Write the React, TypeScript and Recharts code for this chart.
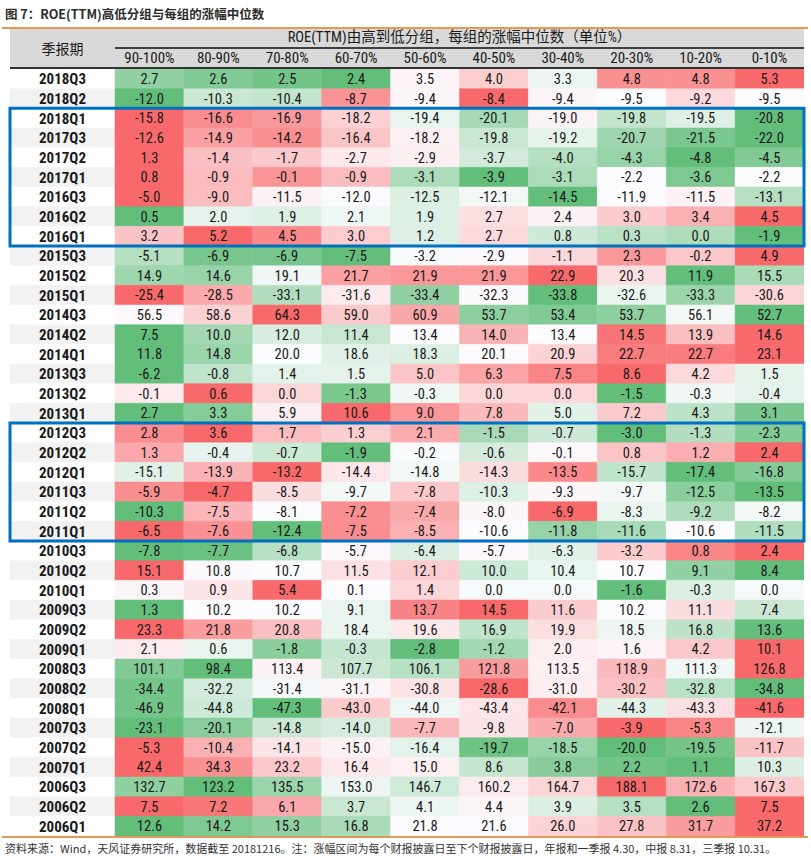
import { BarChart, Bar, XAxis, YAxis, Cell, LabelList, ReferenceArea } from 'recharts'

const title = '图 7：ROE(TTM)高低分组与每组的涨幅中位数'
const groupTitle = 'ROE(TTM)由高到低分组，每组的涨幅中位数（单位%）'
const periodTitle = '季报期'
const source =
  '资料来源：Wind，天风证券研究所，数据截至 20181216。注：涨幅区间为每个财报披露日至下个财报披露日，年报和一季报 4.30，中报 8.31，三季报 10.31。'

const groups = ['90-100%', '80-90%', '70-80%', '60-70%', '50-60%', '40-50%', '30-40%', '20-30%', '10-20%', '0-10%']

const periods = [
  '2018Q3', '2018Q2', '2018Q1', '2017Q3', '2017Q2', '2017Q1', '2016Q3', '2016Q2', '2016Q1',
  '2015Q3', '2015Q2', '2015Q1', '2014Q3', '2014Q2', '2014Q1', '2013Q3', '2013Q2', '2013Q1',
  '2012Q3', '2012Q2', '2012Q1', '2011Q3', '2011Q2', '2011Q1', '2010Q3', '2010Q2', '2010Q1',
  '2009Q3', '2009Q2', '2009Q1', '2008Q3', '2008Q2', '2008Q1', '2007Q3', '2007Q2', '2007Q1',
  '2006Q3', '2006Q2', '2006Q1',
]

// one row per period, columns follow `groups`
const medians: number[][] = [
  [2.7, 2.6, 2.5, 2.4, 3.5, 4.0, 3.3, 4.8, 4.8, 5.3],
  [-12.0, -10.3, -10.4, -8.7, -9.4, -8.4, -9.4, -9.5, -9.2, -9.5],
  [-15.8, -16.6, -16.9, -18.2, -19.4, -20.1, -19.0, -19.8, -19.5, -20.8],
  [-12.6, -14.9, -14.2, -16.4, -18.2, -19.8, -19.2, -20.7, -21.5, -22.0],
  [1.3, -1.4, -1.7, -2.7, -2.9, -3.7, -4.0, -4.3, -4.8, -4.5],
  [0.8, -0.9, -0.1, -0.9, -3.1, -3.9, -3.1, -2.2, -3.6, -2.2],
  [-5.0, -9.0, -11.5, -12.0, -12.5, -12.1, -14.5, -11.9, -11.5, -13.1],
  [0.5, 2.0, 1.9, 2.1, 1.9, 2.7, 2.4, 3.0, 3.4, 4.5],
  [3.2, 5.2, 4.5, 3.0, 1.2, 2.7, 0.8, 0.3, 0.0, -1.9],
  [-5.1, -6.9, -6.9, -7.5, -3.2, -2.9, -1.1, 2.3, -0.2, 4.9],
  [14.9, 14.6, 19.1, 21.7, 21.9, 21.9, 22.9, 20.3, 11.9, 15.5],
  [-25.4, -28.5, -33.1, -31.6, -33.4, -32.3, -33.8, -32.6, -33.3, -30.6],
  [56.5, 58.6, 64.3, 59.0, 60.9, 53.7, 53.4, 53.7, 56.1, 52.7],
  [7.5, 10.0, 12.0, 11.4, 13.4, 14.0, 13.4, 14.5, 13.9, 14.6],
  [11.8, 14.8, 20.0, 18.6, 18.3, 20.1, 20.9, 22.7, 22.7, 23.1],
  [-6.2, -0.8, 1.4, 1.5, 5.0, 6.3, 7.5, 8.6, 4.2, 1.5],
  [-0.1, 0.6, 0.0, -1.3, -0.3, 0.0, 0.0, -1.5, -0.3, -0.4],
  [2.7, 3.3, 5.9, 10.6, 9.0, 7.8, 5.0, 7.2, 4.3, 3.1],
  [2.8, 3.6, 1.7, 1.3, 2.1, -1.5, -0.7, -3.0, -1.3, -2.3],
  [1.3, -0.4, -0.7, -1.9, -0.2, -0.6, -0.1, 0.8, 1.2, 2.4],
  [-15.1, -13.9, -13.2, -14.4, -14.8, -14.3, -13.5, -15.7, -17.4, -16.8],
  [-5.9, -4.7, -8.5, -9.7, -7.8, -10.3, -9.3, -9.7, -12.5, -13.5],
  [-10.3, -7.5, -8.1, -7.2, -7.4, -8.0, -6.9, -8.3, -9.2, -8.2],
  [-6.5, -7.6, -12.4, -7.5, -8.5, -10.6, -11.8, -11.6, -10.6, -11.5],
  [-7.8, -7.7, -6.8, -5.7, -6.4, -5.7, -6.3, -3.2, 0.8, 2.4],
  [15.1, 10.8, 10.7, 11.5, 12.1, 10.0, 10.4, 10.7, 9.1, 8.4],
  [0.3, 0.9, 5.4, 0.1, 1.4, 0.0, 0.0, -1.6, -0.3, 0.0],
  [1.3, 10.2, 10.2, 9.1, 13.7, 14.5, 11.6, 10.2, 11.1, 7.4],
  [23.3, 21.8, 20.8, 18.4, 19.6, 16.9, 19.9, 18.5, 16.8, 13.6],
  [2.1, 0.6, -1.8, -0.3, -2.8, -1.2, 2.0, 1.6, 4.2, 10.1],
  [101.1, 98.4, 113.4, 107.7, 106.1, 121.8, 113.5, 118.9, 111.3, 126.8],
  [-34.4, -32.2, -31.4, -31.1, -30.8, -28.6, -31.0, -30.2, -32.8, -34.8],
  [-46.9, -44.8, -47.3, -43.0, -44.0, -43.4, -42.1, -44.3, -43.3, -41.6],
  [-23.1, -20.1, -14.8, -14.0, -7.7, -9.8, -7.0, -3.9, -5.3, -12.1],
  [-5.3, -10.4, -14.1, -15.0, -16.4, -19.7, -18.5, -20.0, -19.5, -11.7],
  [42.4, 34.3, 23.2, 16.4, 15.0, 8.6, 3.8, 2.2, 1.1, 10.3],
  [132.7, 123.2, 135.5, 153.0, 146.7, 160.2, 164.7, 188.1, 172.6, 167.3],
  [7.5, 7.2, 6.1, 3.7, 4.1, 4.4, 3.9, 3.5, 2.6, 7.5],
  [12.6, 14.2, 15.3, 16.8, 21.8, 21.6, 26.0, 27.8, 31.7, 37.2],
]

const highlighted = [
  ['2018Q1', '2016Q1'],
  ['2012Q3', '2011Q1'],
]

// layout
const W = 811
const TABLE_LEFT = 10
const LABEL_W = 105
const TABLE_RIGHT = 804
const COL_W = (TABLE_RIGHT - TABLE_LEFT - LABEL_W) / groups.length
const LABEL_UNITS = LABEL_W / COL_W
const BODY_TOP = 69
const BODY_H = 767

// Roboto + font-stretch condensed stands in for Arial Narrow
const NARROW = 'Roboto, "Noto Sans CJK SC", sans-serif'
const CJK = '"Noto Sans CJK SC", Roboto, sans-serif'

// excel style 3-colour scale per row: min green, median white, max red
const GREEN = [99, 190, 123]
const MID = [252, 252, 255]
const RED = [248, 105, 107]

function mix(a: number[], b: number[], t: number) {
  const c = a.map((v, i) => Math.round(v + (b[i] - v) * t))
  return `rgb(${c[0]},${c[1]},${c[2]})`
}

function rowColors(row: number[]) {
  const s = [...row].sort((a, b) => a - b)
  const lo = s[0]
  const hi = s[s.length - 1]
  const med = (s[4] + s[5]) / 2
  return row.map((v) => {
    if (v <= med) return med === lo ? mix(GREEN, MID, 1) : mix(GREEN, MID, (v - lo) / (med - lo))
    return hi === med ? mix(MID, RED, 0) : mix(MID, RED, (v - med) / (hi - med))
  })
}

const colors = medians.map(rowColors)

const data = periods.map((p, r) => {
  const d: Record<string, number | string> = { period: p, lab: LABEL_UNITS }
  groups.forEach((_, c) => {
    d[`u${c}`] = 1
    d[`v${c}`] = medians[r][c]
  })
  return d
})

export default function App() {
  return (
    <div
      style={{
        position: 'absolute', left: 0, top: 0, width: W, height: 861, background: '#fff',
        color: '#1a1a1a', fontStretch: 'condensed',
      }}
    >
      <div style={{ position: 'absolute', left: 5, top: 5, fontFamily: CJK, fontSize: 12.5, fontWeight: 700, lineHeight: '18px', color: '#2b2b2b' }}>
        {title}
      </div>
      <div style={{ position: 'absolute', left: 2, top: 27, width: 806, height: 2, background: '#E49A55' }} />

      <div style={{ position: 'absolute', left: TABLE_LEFT, top: 29, width: TABLE_RIGHT - TABLE_LEFT, height: 38, background: '#D9D9D9' }} />
      <div
        style={{
          position: 'absolute', left: TABLE_LEFT, top: 29, width: LABEL_W, height: 38,
          display: 'flex', alignItems: 'center', justifyContent: 'center', fontFamily: CJK, fontSize: 14,
        }}
      >
        {periodTitle}
      </div>
      <div
        style={{
          position: 'absolute', left: TABLE_LEFT + LABEL_W, top: 29, width: COL_W * 10, height: 18,
          textAlign: 'center', fontFamily: NARROW, fontSize: 14.5, lineHeight: '18px',
        }}
      >
        {groupTitle}
      </div>
      <div style={{ position: 'absolute', left: TABLE_LEFT + LABEL_W, top: 47, width: COL_W * 10, height: 2, background: '#404040' }} />
      {groups.map((g, i) => (
        <div
          key={g}
          style={{
            position: 'absolute', left: TABLE_LEFT + LABEL_W + i * COL_W, top: 49, width: COL_W, height: 18,
            textAlign: 'center', fontFamily: NARROW, fontSize: 15, lineHeight: '18px',
          }}
        >
          {g}
        </div>
      ))}
      <div style={{ position: 'absolute', left: TABLE_LEFT, top: 67, width: TABLE_RIGHT - TABLE_LEFT, height: 2, background: '#333' }} />

      <div style={{ position: 'absolute', left: 0, top: BODY_TOP }}>
        <BarChart
          width={W}
          height={BODY_H}
          data={data}
          layout="vertical"
          barCategoryGap={0}
          barGap={0}
          margin={{ top: 0, right: W - TABLE_RIGHT, bottom: 0, left: TABLE_LEFT }}
        >
          <XAxis type="number" hide domain={[0, LABEL_UNITS + groups.length]} allowDataOverflow />
          <YAxis type="category" dataKey="period" hide />
          <Bar dataKey="lab" stackId="t" isAnimationActive={false}>
            {data.map((_, r) => (
              <Cell key={r} fill={r % 2 ? '#F2F2F2' : '#FFFFFF'} stroke={r % 2 ? '#F2F2F2' : '#FFFFFF'} strokeWidth={0.5} />
            ))}
            <LabelList dataKey="period" position="center" fill="#1a1a1a" fontSize={15} fontWeight={700} fontFamily={NARROW} />
          </Bar>
          {groups.map((g, c) => (
            <Bar key={g} dataKey={`u${c}`} stackId="t" isAnimationActive={false}>
              {data.map((_, r) => (
                <Cell key={r} fill={colors[r][c]} stroke={colors[r][c]} strokeWidth={0.5} />
              ))}
              <LabelList
                dataKey={`v${c}`}
                position="center"
                fill="#1a1a1a"
                fontSize={14.5}
                fontFamily={NARROW}
                formatter={(v: any) => Number(v).toFixed(1)}
              />
            </Bar>
          ))}
          {highlighted.map(([a, b]) => (
            <ReferenceArea
              key={a}
              y1={a}
              y2={b}
              fill="none"
              fillOpacity={0}
              stroke="#0070C0"
              strokeWidth={3}
              ifOverflow="visible"
              zIndex={2500}
            />
          ))}
        </BarChart>
      </div>

      <div style={{ position: 'absolute', left: 2, top: 836, width: 806, height: 2, background: '#E49A55' }} />
      <div
        style={{
          position: 'absolute', left: 5, top: 840, fontFamily: CJK, fontSize: 11, lineHeight: '16px',
          color: '#333', whiteSpace: 'nowrap', fontStretch: 'normal',
        }}
      >
        {source}
      </div>
    </div>
  )
}
